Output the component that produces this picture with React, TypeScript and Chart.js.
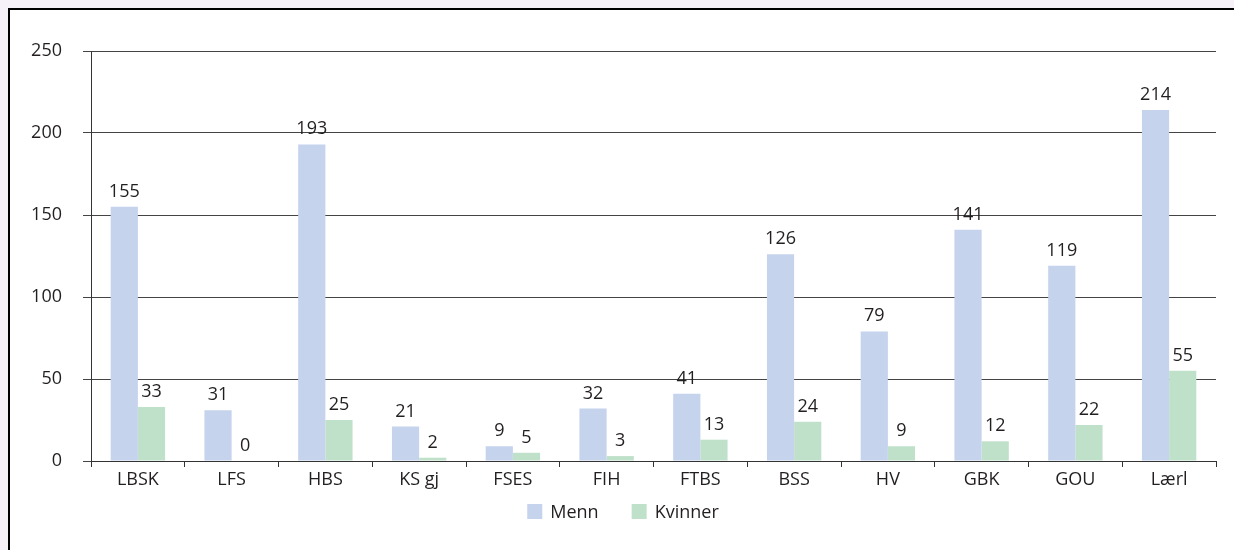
import React, { useEffect, useRef } from "react";
import { Chart, registerables } from "chart.js";

Chart.register(...registerables);

const categories = ["LBSK", "LFS", "HBS", "KS gj", "FSES", "FIH", "FTBS", "BSS", "HV", "GBK", "GOU", "Lærl"];
const menn = [155, 31, 193, 21, 9, 32, 41, 126, 79, 141, 119, 214];
const kvinner = [33, 0, 25, 2, 5, 3, 13, 24, 9, 12, 22, 55];
const yTicks = [0, 50, 100, 150, 200, 250];

const FONT = '"Open Sans", "Noto Sans", sans-serif';
const TEXT = "#231f20";
const LINE = "#444444";
const AXIS = "#333333";

// Writes each bar's value just above it.
const valueLabels = {
  id: "valueLabels",
  afterDatasetsDraw(chart: any) {
    const { ctx } = chart;
    ctx.save();
    ctx.font = `18px ${FONT}`;
    ctx.fillStyle = TEXT;
    ctx.textAlign = "center";
    ctx.textBaseline = "alphabetic";
    chart.data.datasets.forEach((ds: any, i: number) => {
      chart.getDatasetMeta(i).data.forEach((bar: any, j: number) => {
        ctx.fillText(String(ds.data[j]), bar.x, bar.y - 10);
      });
    });
    ctx.restore();
  },
};

// Legend row under the axis: a square swatch and the series name for each dataset.
const legendRow = {
  id: "legendRow",
  afterDraw(chart: any) {
    const { ctx } = chart;
    const box = 15;
    const gap = 8;
    const itemGap = 33;
    const centerX = 613;
    const boxTop = 494;
    ctx.save();
    ctx.font = `18px ${FONT}`;
    const items = chart.data.datasets.map((ds: any) => ({
      text: ds.label,
      color: ds.backgroundColor,
      w: ctx.measureText(ds.label).width,
    }));
    const total =
      items.reduce((s: number, it: any) => s + box + gap + it.w, 0) + itemGap * (items.length - 1);
    let x = centerX - total / 2;
    ctx.textBaseline = "middle";
    ctx.textAlign = "left";
    items.forEach((it: any) => {
      ctx.fillStyle = it.color;
      ctx.fillRect(x, boxTop, box, box);
      ctx.fillStyle = TEXT;
      ctx.fillText(it.text, x + box + gap, boxTop + box / 2 + 1);
      x += box + gap + it.w + itemGap;
    });
    ctx.restore();
  },
};

export default function App() {
  const ref = useRef<HTMLCanvasElement>(null);

  useEffect(() => {
    document.documentElement.style.overflow = "hidden";
    document.body.style.background = "#f6f0f8";
    const chart = new Chart(ref.current!, {
      type: "bar",
      data: {
        labels: categories,
        datasets: [
          { label: "Menn", data: menn, backgroundColor: "#c5d3ed" },
          { label: "Kvinner", data: kvinner, backgroundColor: "#bfe1ca" },
        ],
      },
      options: {
        responsive: false,
        animation: false,
        layout: { padding: { left: 20, right: 18, top: 41, bottom: 59 } },
        datasets: { bar: { categoryPercentage: 0.58, barPercentage: 1 } },
        scales: {
          x: {
            afterFit(scale: any) {
              scale.height = 30;
            },
            grid: { drawOnChartArea: false, drawTicks: true, tickLength: 6, color: AXIS, lineWidth: 1 },
            border: { display: true, color: AXIS, width: 1 },
            ticks: { color: TEXT, font: { family: FONT, size: 18 }, padding: 2, autoSkip: false, maxRotation: 0 },
          },
          y: {
            min: 0,
            max: 250,
            afterFit(scale: any) {
              scale.width = 61;
            },
            afterBuildTicks(scale: any) {
              scale.ticks = yTicks.map((v) => ({ value: v }));
            },
            grid: { drawOnChartArea: true, drawTicks: true, tickLength: 8, color: LINE, lineWidth: 1 },
            border: { display: true, color: AXIS, width: 1 },
            ticks: { color: TEXT, font: { family: FONT, size: 18 }, padding: 21 },
          },
        },
        plugins: {
          legend: { display: false },
          tooltip: { enabled: false },
        },
      },
      plugins: [valueLabels, legendRow],
    });
    return () => chart.destroy();
  }, []);

  return (
    <div
      style={{
        position: "fixed",
        left: 8,
        top: 8,
        right: 0,
        bottom: 0,
        borderLeft: "2px solid #000",
        borderTop: "2px solid #000",
        background: "#fff",
        overflow: "hidden",
      }}
    >
      <canvas ref={ref} width={1224} height={540} style={{ display: "block" }} />
    </div>
  );
}
